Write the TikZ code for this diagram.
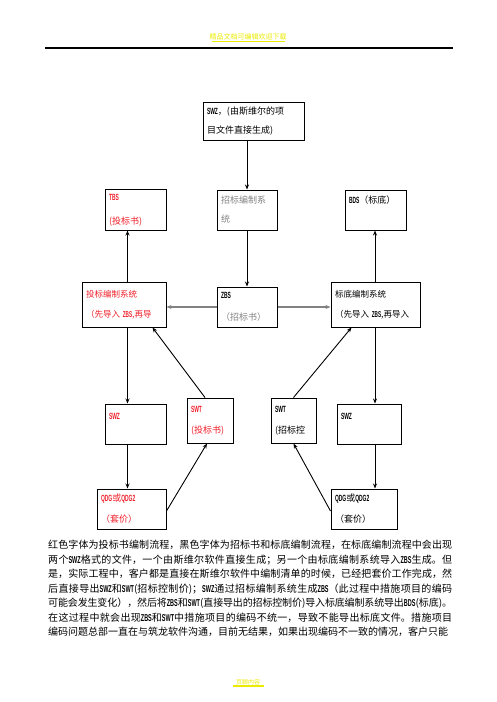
\documentclass[tikz,border=0pt]{standalone}
\usepackage{fontspec}
\setmainfont{Noto Sans CJK SC}
\newfontfamily\codefont[FakeStretch=0.55]{Liberation Sans}
\usetikzlibrary{arrows.meta}

\definecolor{tbred}{RGB}{240,30,40}
\definecolor{zbgray}{RGB}{130,130,130}
\definecolor{hdyellow}{RGB}{235,235,0}
\newcommand{\code}[1]{{\codefont\bfseries #1}}
\newcommand{\notefont}{\fontsize{10}{14.5}\selectfont
  \XeTeXlinebreaklocale "zh"\relax
  \XeTeXlinebreakskip=0pt plus 2pt minus 0.6pt\relax}

\tikzset{
  box/.style 2 args={draw, line width=1pt, inner sep=4pt, align=left,
    text width=#1, minimum height=#2, font=\fontsize{9}{11}\selectfont},
  sysbox/.style={font=\fontsize{8.5}{10}\selectfont},
  flow/.style={line width=0.9pt, -{Stealth[length=5pt,width=4pt]}},
  grayflow/.style={flow, draw=zbgray, line width=1.3pt},
  bar/.style={draw, line width=0.7pt, inner sep=0pt, outer sep=0pt, minimum height=0.6pt, text height=0pt, text depth=0pt},
}

\begin{document}
\begin{tikzpicture}[x=1pt,y=-1pt]
        \useasboundingbox (0,0) rectangle (496,702);

        % Defining the columns
        \coordinate (lcol) at (127.5,0);
        \coordinate (mcol) at (247,0);
        \coordinate (rcol) at (375,0);

        % Page header and footer
        \node[bar, minimum width=407pt] (rule) at (248.5,48) {};
        \node[bar, draw=hdyellow, minimum width=72pt] (hdbar) at (248,41.5) {};
        \node[text=hdyellow, font=\fontsize{7}{8}\selectfont, inner sep=1pt, anchor=south] (header) at (hdbar.north) {精品文档可编辑欢迎下载};
        \node[bar, draw=hdyellow, minimum width=30pt] (ftbar) at (248,686) {};
        \node[text=hdyellow, font=\fontsize{6}{7}\selectfont, inner sep=1pt, anchor=south] (footer) at (ftbar.north) {页脚内容};

        % Boxes
        \node[box={93pt}{38pt}] (swzsrc) at (253.5,121) {\code{SWZ}，(由斯维尔的项\\[8pt]目文件直接生成)};
        \node[box={53pt}{40pt}, text=tbred] (tbs) at (135.5,210) {\code{TBS}\\[13pt](投标书)};
        \node[box={52pt}{40pt}, text=zbgray] (zbsys) at (247,210) {招标编制系\\[8pt]统};
        \node[box={53pt}{40pt}] (bds) at (375.5,210) {\code{BDS}（标底）\\[9pt]~};

        \node[box={76pt}{45pt}, sysbox, text=tbred] (tbsys) at (124,304.5) {投标编制系统\\[10pt]（先导入 \code{ZBS},再导};
        \node[box={52pt}{40pt}] (zbs) at (247,307) {\code{ZBS}\\[11pt]{\color{zbgray}（招标书）}};
        \node[box={81pt}{45pt}, sysbox] (bdsys) at (375.5,304.5) {标底编制系统\\[10pt]（先导入 \code{ZBS},再导入};

        \node[box={53pt}{40pt}, text=tbred] (swzred) at (135.5,424) {\code{SWZ}\\[5pt]~};
        \node[box={38pt}{45pt}, text=tbred] (swtred) at (210,420.5) {\code{SWT}\\[10pt](投标书)};
        \node[box={37pt}{45pt}] (swtblk) at (293.5,420.5) {\code{SWT}\\[10pt](招标控};
        \node[box={56pt}{40pt}] (swzblk) at (369,424) {\code{SWZ}\\[5pt]~};

        \node[box={61pt}{40pt}, text=tbred] (qdgred) at (131.5,509) {\code{QDG}或\code{QDG2}\\[10pt]（套价）};
        \node[box={58pt}{40pt}] (qdgblk) at (364,509) {\code{QDG}或\code{QDG2}\\[10pt]（套价）};

        % Drawing the vertical arrows
        \draw[flow] (mcol |- swzsrc.south) -- (mcol |- zbsys.north);
        \draw[flow] (mcol |- zbsys.south) -- (mcol |- zbs.north);
        \draw[flow] (lcol |- tbsys.north) -- (lcol |- tbs.south);
        \draw[flow] (lcol |- tbsys.south) -- (lcol |- swzred.north);
        \draw[flow] (lcol |- swzred.south) -- (lcol |- qdgred.north);
        \draw[flow] (rcol |- bdsys.north) -- (rcol |- bds.south);
        \draw[flow] (rcol |- bdsys.south) -- (rcol |- swzblk.north);
        \draw[flow] (rcol |- swzblk.south) -- (rcol |- qdgblk.north);

        % ZBS goes to both systems
        \draw[grayflow] (zbs.west) -- (zbs.west -| tbsys.east);
        \draw[grayflow] (zbs.east) -- (zbs.east -| bdsys.west);

        % Diagonal arrows
        \draw[flow] ([xshift=-5pt]swtred.north) -- ([xshift=-14pt]tbsys.south east);
        \draw[flow] (swtblk.north) -- ([xshift=21pt]bdsys.south west);
        \draw[flow] ([yshift=-2pt]qdgred.east) -- ([xshift=-3pt]swtred.south);
        \draw[flow] ([yshift=-2pt]qdgblk.west) -- (swtblk.south);

        % Adding the note
        \node[anchor=north west, text width=404pt, inner sep=0pt, align=justify, font=\notefont] (note) at (48,540)
          {红色字体为投标书编制流程，黑色字体为招标书和标底编制流程，在标底编制流程中会出现\linebreak
           两个\code{SWZ}格式的文件，一个由斯维尔软件直接生成；另一个由标底编制系统导入\code{ZBS}生成。但\linebreak
           是，实际工程中，客户都是直接在斯维尔软件中编制清单的时候，已经把套价工作完成，然\linebreak
           后直接导出\code{SWZ}和\code{SWT}(招标控制价)；\code{SWZ}通过招标编制系统生成\code{ZBS}（此过程中措施项目的编码\linebreak
           可能会发生变化），然后将\code{ZBS}和\code{SWT}(直接导出的招标控制价)导入标底编制系统导出\code{BDS}(标底)。\linebreak
           在这过程中就会出现\code{ZBS}和\code{SWT}中措施项目的编码不统一，导致不能导出标底文件。措施项目\linebreak
           编码问题总部一直在与筑龙软件沟通，目前无结果，如果出现编码不一致的情况，客户只能};
    \end{tikzpicture}
\end{document}
